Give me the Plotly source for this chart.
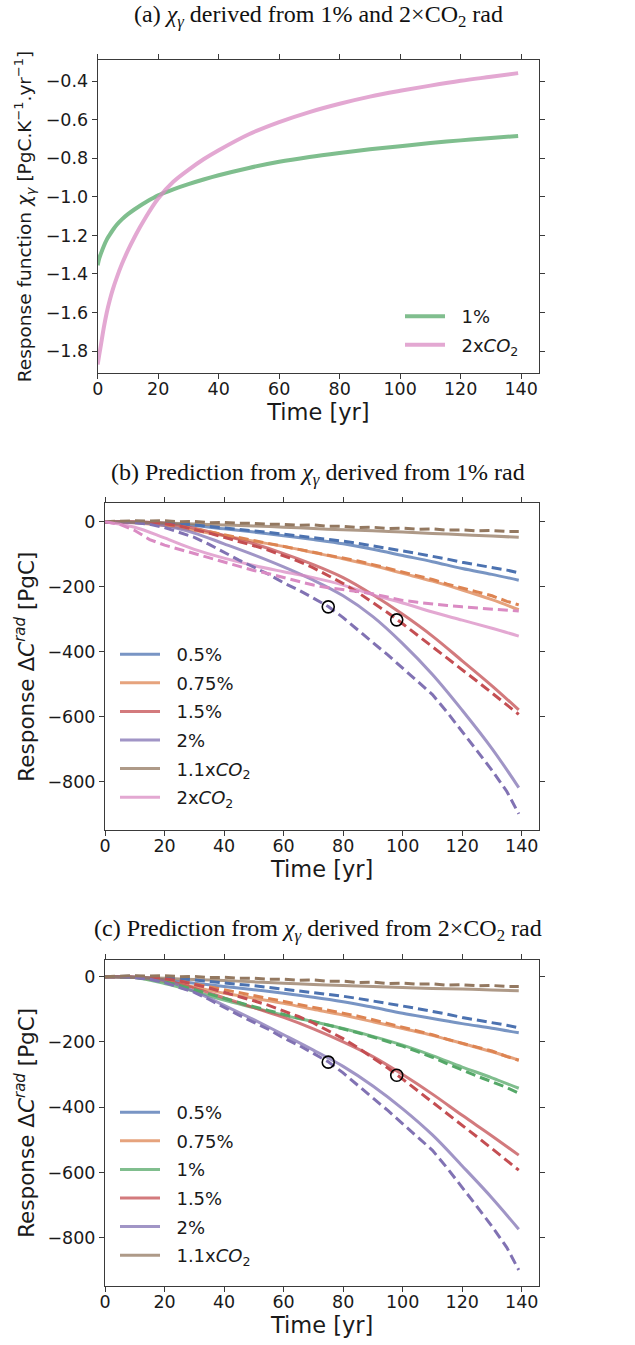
import plotly.graph_objects as go

# ---------------- data ----------------
# panel (a): response function chi_gamma
T_A = [0, 0.5, 1, 2, 3, 4, 5, 6.3, 8, 10, 12, 14, 16, 18, 20, 25, 30, 35, 40, 50, 60, 70, 80, 90, 100, 110, 120, 130, 139]
CHI_1PCT = [-1.355, -1.32, -1.297, -1.256, -1.222, -1.196, -1.172, -1.145, -1.117, -1.09, -1.067, -1.046, -1.027,
            -1.009, -0.992, -0.961, -0.934, -0.91, -0.888, -0.85, -0.818, -0.793, -0.772, -0.753, -0.737,
            -0.721, -0.707, -0.695, -0.684]
CHI_2XCO2 = [-1.87, -1.82, -1.775, -1.68, -1.60, -1.535, -1.48, -1.419, -1.349, -1.278, -1.215, -1.157, -1.103,
             -1.053, -1.008, -0.922, -0.86, -0.805, -0.758, -0.675, -0.612, -0.56, -0.517, -0.48, -0.45,
             -0.423, -0.398, -0.377, -0.358]

# truth (dashed) series, every 5 years
T_D = [0, 5, 10, 15, 20, 25, 30, 35, 40, 45, 50, 55, 60, 65, 70, 75, 80, 85, 90, 95, 100,
       105, 110, 115, 120, 125, 130, 135, 139]
TRUE_05 = [0, 1, 1, -1, -3, -6, -10, -14, -19, -23, -28, -33, -38, -43, -48, -54, -60, -67, -74, -82, -90,
           -98, -106, -115, -125, -133, -140, -149, -157]
TRUE_075 = [0, 0, -1, -4, -8, -14, -22, -31, -40, -48, -57, -65, -74, -83, -92, -102, -112, -121, -132, -143, -155,
            -166, -178, -192, -205, -216, -228, -245, -256]
TRUE_1 = [0, 0, -2, -7, -15, -27, -40, -54, -68, -80, -92, -104, -116, -127, -137, -148, -160, -172, -185, -199, -213,
          -230, -247, -267, -287, -305, -322, -340, -357]
TRUE_15 = [0, 1, 0, -2, -6, -13, -23, -35, -48, -60, -74, -88, -104, -122, -142, -165, -190, -218, -248, -280, -314,
           -349, -384, -419, -455, -491, -527, -564, -593]
TRUE_2 = [0, 0, -3, -8, -18, -32, -48, -70, -95, -118, -140, -162, -188, -210, -235, -261, -295, -335, -372, -410, -450,
          -490, -532, -587, -645, -705, -765, -830, -899]
TRUE_11CO2 = [0, 2, 3, 2, 3, 0, 1, -3, -2, -5, -5, -8, -8, -11, -10, -14, -14, -18, -17, -21, -20,
              -23, -22, -26, -25, -28, -27, -30, -30]
TRUE_2CO2 = [0, -8, -27, -55, -72, -85, -100, -112, -125, -137, -150, -160, -172, -185, -195, -203, -208, -215, -222, -232, -242,
             -248, -254, -258, -262, -265, -268, -272, -275]

# predictions (solid), every 10 years
T_S = [0, 10, 20, 30, 40, 50, 60, 70, 80, 90, 100, 110, 120, 130, 139]
# (b) from chi derived from 1%
PRED_B_05 = [0, -1, -5, -12, -22, -32, -43, -55, -68, -85, -104, -123, -144, -162, -180]
PRED_B_075 = [0, -3, -12, -27, -43, -60, -76, -95, -114, -135, -159, -183, -210, -240, -271]
PRED_B_15 = [0, 0, -5, -20, -42, -68, -98, -132, -172, -225, -285, -352, -428, -505, -579]
PRED_B_2 = [0, -3, -12, -35, -68, -102, -139, -180, -228, -292, -375, -470, -580, -698, -818]
PRED_B_11CO2 = [0, -2, -4, -7, -10, -13, -17, -21, -25, -28, -32, -36, -40, -44, -48]
PRED_B_2CO2 = [0, -17, -50, -85, -112, -135, -154, -172, -195, -225, -250, -278, -303, -328, -352]
# (c) from chi derived from 2xCO2
PRED_C_05 = [0, -2, -10, -20, -30, -40, -51, -63, -77, -94, -112, -128, -144, -158, -172]
PRED_C_075 = [0, -3, -15, -32, -51, -66, -82, -100, -118, -138, -159, -180, -205, -230, -256]
PRED_C_1 = [0, -3, -21, -45, -72, -95, -118, -138, -159, -183, -210, -242, -277, -310, -342]
PRED_C_15 = [0, -1, -10, -35, -65, -95, -125, -160, -200, -245, -300, -360, -425, -488, -547]
PRED_C_2 = [0, -2, -12, -45, -88, -132, -178, -225, -275, -335, -405, -485, -580, -678, -774]
PRED_C_11CO2 = [0, -2, -5, -9, -12, -16, -20, -24, -27, -30, -33, -36, -38, -41, -43]

# circled points (time, value)
CIRCLE_T = [75, 98]
CIRCLE_V = [-262, -302]

# epsilon labels (value, y position)
EPS_B = [("0.57", -25), ("0.15", -159), ("0.05", -248), ("0.15", -331), ("0.07", -559), ("0.19", -795)]
EPS_B_KEYS = ["11CO2", "05", "075", "2CO2", "15", "2"]
EPS_C = [("0.45", -25), ("0.12", -150), ("0.04", -230), ("0.04", -319), ("0.06", -523), ("0.13", -751)]
EPS_C_KEYS = ["11CO2", "05", "075", "1", "15", "2"]

NB = "\u00a0\u00a0"
LABELS = {"05": NB + "0.5%", "075": NB + "0.75%", "1": NB + "1%", "15": NB + "1.5%", "2": NB + "2%",
          "11CO2": NB + "1.1x<i>CO</i><sub>2</sub>", "2CO2": NB + "2x<i>CO</i><sub>2</sub>"}
COLORS = {"05": "#4c72b0", "075": "#dd8452", "1": "#55a868", "15": "#c44e52", "2": "#8172b3",
          "11CO2": "#937860", "2CO2": "#da8bc3"}

TRUE = {"05": TRUE_05, "075": TRUE_075, "1": TRUE_1, "15": TRUE_15, "2": TRUE_2,
        "11CO2": TRUE_11CO2, "2CO2": TRUE_2CO2}
PRED_B = {"05": PRED_B_05, "075": PRED_B_075, "15": PRED_B_15, "2": PRED_B_2,
          "11CO2": PRED_B_11CO2, "2CO2": PRED_B_2CO2}
PRED_C = {"05": PRED_C_05, "075": PRED_C_075, "1": PRED_C_1, "15": PRED_C_15, "2": PRED_C_2,
          "11CO2": PRED_C_11CO2}

# ---------------- layout helpers ----------------
W, H = 635, 1345


def px_x(p):
    return p / W


def px_y(p):
    return 1 - p / H


fig = go.Figure()

# panel a
fig.add_trace(go.Scatter(x=T_A, y=CHI_1PCT, mode="lines",
                         line=dict(color="#55a868", width=4, shape="spline", smoothing=1.0),
                         opacity=0.75, name=NB + "1%", legend="legend", legendgroup="a1", xaxis="x", yaxis="y"))
fig.add_trace(go.Scatter(x=T_A, y=CHI_2XCO2, mode="lines",
                         line=dict(color="#da8bc3", width=4, shape="spline", smoothing=1.0),
                         opacity=0.75, name=LABELS["2CO2"], legend="legend", legendgroup="a2", xaxis="x", yaxis="y"))


def add_panel(pred, keys, xa, ya, leg, gid):
    for k in keys:
        fig.add_trace(go.Scatter(x=T_S, y=pred[k], mode="lines",
                                 line=dict(color=COLORS[k], width=3, shape="spline"), opacity=0.75,
                                 name=LABELS[k], legend=leg, legendgroup=gid + k, xaxis=xa, yaxis=ya))
    for k in keys:
        fig.add_trace(go.Scatter(x=T_D, y=TRUE[k], mode="lines",
                                 line=dict(color=COLORS[k], width=3, dash="10px,5px"),
                                 showlegend=False, xaxis=xa, yaxis=ya, hoverinfo="skip"))
    fig.add_trace(go.Scatter(x=CIRCLE_T, y=CIRCLE_V, mode="markers",
                             marker=dict(symbol="circle-open", size=12, color="black", line=dict(width=1.6)),
                             showlegend=False, xaxis=xa, yaxis=ya))


add_panel(PRED_B, ["05", "075", "15", "2", "11CO2", "2CO2"], "x2", "y2", "legend2", "b")
add_panel(PRED_C, ["05", "075", "1", "15", "2", "11CO2"], "x3", "y3", "legend3", "c")

TICKFONT = dict(family="DejaVu Sans", size=17.5, color="#1a1a1a")
TITLEFONT = dict(family="DejaVu Sans", size=22.5, color="#1a1a1a")
YTITLEFONT = dict(family="DejaVu Sans", size=21.5, color="#1a1a1a")
axis_common = dict(showline=True, linecolor="#3a3a3a", linewidth=1, mirror="ticks", ticks="outside",
                   ticklen=5, tickwidth=1, tickcolor="#3a3a3a", showgrid=False, zeroline=False,
                   tickfont=TICKFONT, automargin=False)
xaxis_common = dict(axis_common, ticklabelstandoff=-5, range=[0, 145.9], dtick=20, tick0=0,
                    title=dict(text="Time [yr]", font=TITLEFONT, standoff=4))

xdom_a = [px_x(97.7), px_x(539)]
xdom_bc = [px_x(105), px_x(539.3)]
LEGFONT = dict(family="DejaVu Sans", size=18, color="#1a1a1a")

fig.update_layout(
    width=W, height=H, margin=dict(l=0, r=0, t=0, b=0), paper_bgcolor="white", plot_bgcolor="white",
    xaxis=dict(xaxis_common, domain=xdom_a, anchor="y"),
    yaxis=dict(axis_common, domain=[px_y(373), px_y(60)], anchor="x", range=[-1.914, -0.29], dtick=0.2,
               tick0=-0.4, tickformat=".1f",
               title=dict(text="Response function <i>χ</i><sub><i>γ</i></sub> [PgC.K<sup>−1</sup>.yr<sup>−1</sup>]",
                          font=dict(family="DejaVu Sans", size=18.5, color="#1a1a1a"), standoff=9)),
    xaxis2=dict(xaxis_common, domain=xdom_bc, anchor="y2"),
    yaxis2=dict(axis_common, domain=[px_y(830), px_y(503.3)], anchor="x2", range=[-948.6, 56.6], dtick=200,
                title=dict(text="Response Δ<i>C</i><sup><i>rad</i></sup> [PgC]", font=YTITLEFONT, standoff=6)),
    xaxis3=dict(xaxis_common, domain=xdom_bc, anchor="y3"),
    yaxis3=dict(axis_common, domain=[px_y(1285.7), px_y(960)], anchor="x3", range=[-947, 51], dtick=200,
                title=dict(text="Response Δ<i>C</i><sup><i>rad</i></sup> [PgC]", font=YTITLEFONT, standoff=6)),
    legend=dict(x=px_x(400), y=px_y(298), xanchor="left", yanchor="top", bgcolor="rgba(0,0,0,0)",
                font=LEGFONT, tracegroupgap=2.2, itemwidth=40),
    legend2=dict(x=px_x(115), y=px_y(636), xanchor="left", yanchor="top", bgcolor="rgba(0,0,0,0)",
                 font=LEGFONT, tracegroupgap=2.2, itemwidth=40),
    legend3=dict(x=px_x(115), y=px_y(1094), xanchor="left", yanchor="top", bgcolor="rgba(0,0,0,0)",
                 font=LEGFONT, tracegroupgap=2.2, itemwidth=40),
)

SERIF = dict(family="Liberation Serif", size=24, color="#111111")
annotations = [
    dict(text="(a) <i>χ</i><sub><i>γ</i></sub> derived from 1% and 2×CO<sub>2</sub> rad", x=px_x(318), y=px_y(16)),
    dict(text="(b) Prediction from <i>χ</i><sub><i>γ</i></sub> derived from 1% rad", x=px_x(318), y=px_y(474)),
    dict(text="(c) Prediction from <i>χ</i><sub><i>γ</i></sub> derived from 2×CO<sub>2</sub> rad", x=px_x(318), y=px_y(930)),
]
annots = [dict(a, xref="paper", yref="paper", showarrow=False, font=SERIF, xanchor="center", yanchor="middle")
          for a in annotations]

for eps, keys, xr, yr in [(EPS_B, EPS_B_KEYS, "x2", "y2"), (EPS_C, EPS_C_KEYS, "x3", "y3")]:
    for (val, ypos), k in zip(eps, keys):
        annots.append(dict(text="<i>ε</i>\u2009=\u00a0\u00a0" + val, x=151.6, y=ypos, xref=xr, yref=yr,
                           showarrow=False, xanchor="left", yanchor="middle",
                           font=dict(family="DejaVu Sans", size=18.5, color=COLORS[k])))

fig.update_layout(annotations=annots)
fig.write_html("out.html", config={"displayModeBar": False},
               post_script="document.body.style.margin='0';document.body.style.overflow='hidden';")
